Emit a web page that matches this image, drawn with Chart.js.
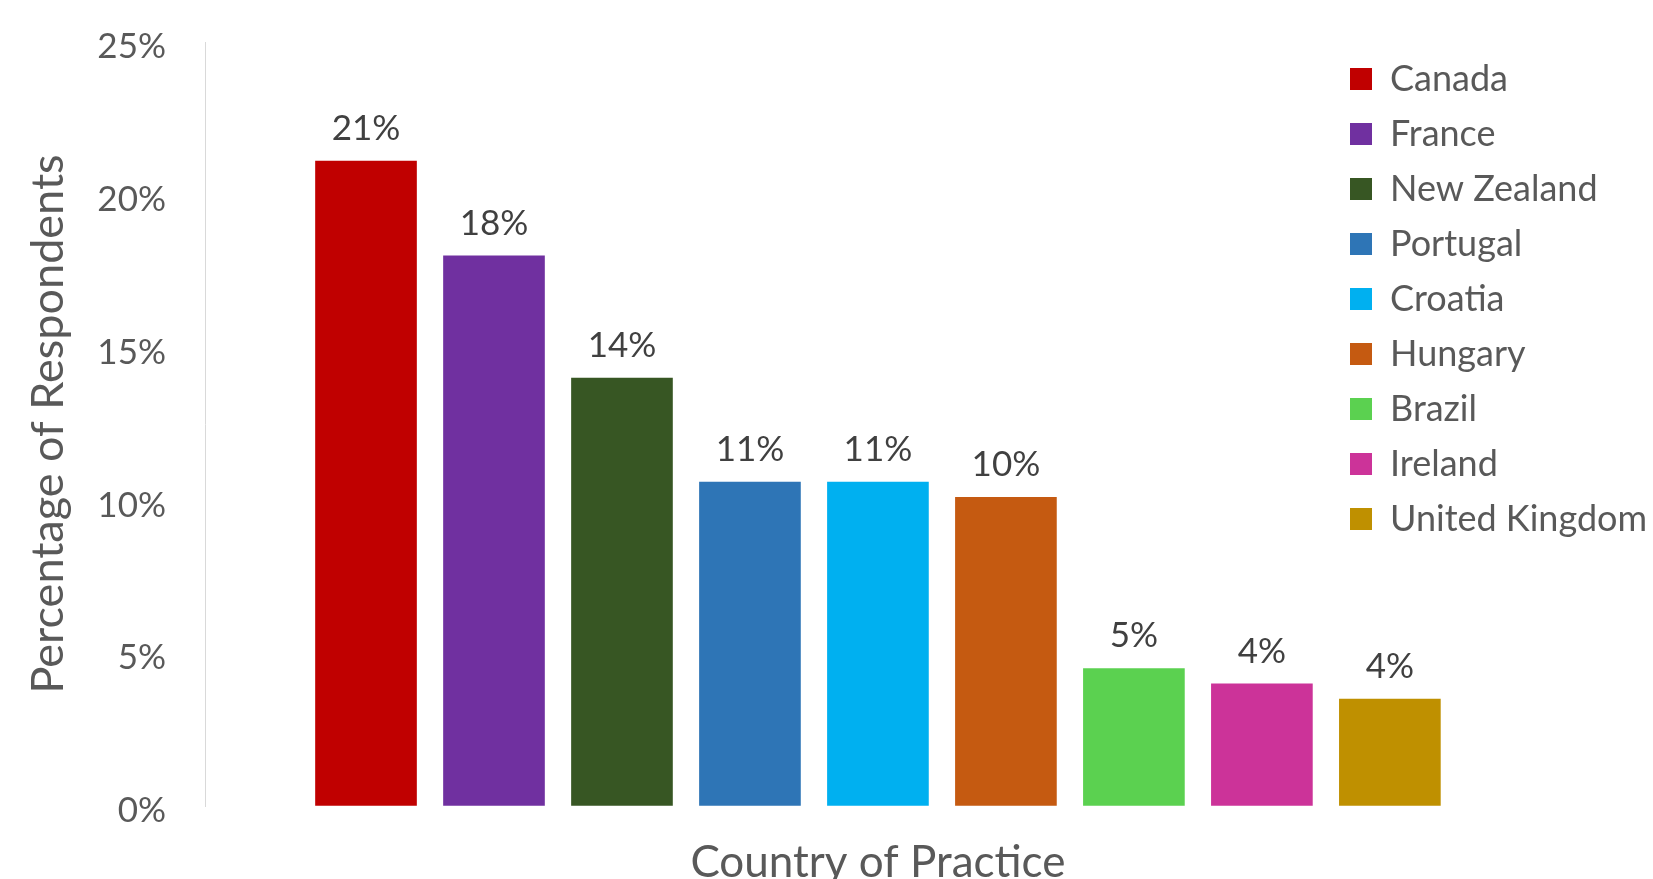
<!DOCTYPE html>
<html>
<head>
<meta charset="utf-8">
<script src="https://cdn.jsdelivr.net/npm/chart.js@4/dist/chart.umd.min.js"></script>
<style>
  html, body { margin: 0; padding: 0; background: #fff; }
</style>
</head>
<body>
<canvas id="chart" width="1653" height="879"></canvas>
<script>
const countries = ['Canada', 'France', 'New Zealand', 'Portugal', 'Croatia', 'Hungary', 'Brazil', 'Ireland', 'United Kingdom'];
const percentages = [21.1, 18.0, 14.0, 10.6, 10.6, 10.1, 4.5, 4.0, 3.5];
const barColors = ['#C00000', '#7030A0', '#375623', '#2E75B6', '#00B0F0', '#C55A11', '#5BD150', '#CC3399', '#BF9000'];
const yTicks = [0, 5, 10, 15, 20, 25];
const xTitle = 'Country of Practice';
const yTitle = 'Percentage of Respondents';

const FONT = 'Lato';
const GREY = '#595959';

// value labels above each bar + x title centred under the bar group
const barLabels = {
    id: 'barLabels',
    afterDatasetsDraw(chart) {
        const ctx = chart.ctx;
        ctx.save();
        ctx.textAlign = 'center';
        ctx.textBaseline = 'alphabetic';
        ctx.font = `35px ${FONT}`;
        ctx.fillStyle = '#404040';
        chart.data.datasets.forEach((ds, i) => {
            const bar = chart.getDatasetMeta(i).data[0];
            ctx.fillText(Math.round(percentages[i]) + '%', bar.x, bar.y - 21);
        });

        const xScale = chart.scales.x;
        const mid = xScale.getPixelForValue((1 + countries.length) / 2);
        ctx.font = `44px ${FONT}`;
        ctx.fillStyle = GREY;
        ctx.fillText(xTitle, mid, chart.chartArea.bottom + 71);
        ctx.restore();
    }
};

const datasets = countries.map((name, i) => ({
    label: name,
    data: [{ x: i + 1, y: percentages[i] }],
    backgroundColor: barColors[i],
    borderWidth: 0,
    barThickness: 101,
    grouped: false,
    clip: false
}));

new Chart(document.getElementById('chart').getContext('2d'), {
    type: 'bar',
    data: { datasets },
    plugins: [barLabels],
    options: {
        responsive: false,
        animation: false,
        layout: { padding: { top: 42, bottom: 73, left: 0, right: 0 } },
        scales: {
            x: {
                type: 'linear',
                offset: false,
                min: -0.258,
                max: 8.54,
                display: false
            },
            y: {
                min: 0,
                max: 25,
                afterBuildTicks: scale => {
                    scale.ticks = yTicks.map(v => ({ value: v }));
                },
                afterFit: scale => {
                    scale.width = 205;
                    // tick padding should not push the plot down
                    scale.paddingTop = 0;
                    scale.paddingBottom = 0;
                },
                ticks: {
                    callback: v => v + '%',
                    padding: 39,
                    labelOffset: 5,
                    color: GREY,
                    font: { family: FONT, size: 35 }
                },
                grid: { drawOnChartArea: false, drawTicks: false },
                border: { color: '#d9d9d9', width: 1 },
                title: {
                    display: true,
                    text: yTitle,
                    color: GREY,
                    font: { family: FONT, size: 45 },
                    padding: { top: 21, bottom: 0 }
                }
            }
        },
        plugins: {
            tooltip: { enabled: false },
            legend: {
                position: 'right',
                align: 'start',
                maxWidth: 322,
                labels: {
                    boxWidth: 22,
                    boxHeight: 22,
                    padding: 19,
                    color: GREY,
                    font: { family: FONT, size: 36 }
                }
            }
        }
    }
});
</script>
</body>
</html>
